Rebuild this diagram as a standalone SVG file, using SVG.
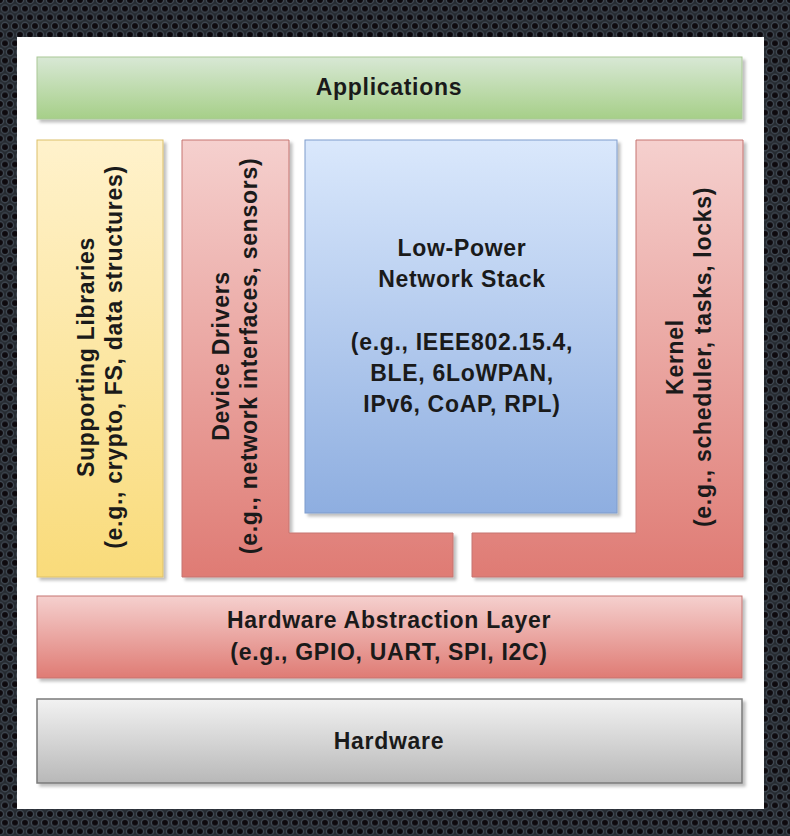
<svg xmlns="http://www.w3.org/2000/svg" width="790" height="836" viewBox="0 0 790 836">
  <defs>
    <pattern id="mesh" patternUnits="userSpaceOnUse" width="10" height="17.32">
      <rect width="10" height="17.32" fill="#262b31"/>
      <g fill="#0e0a0e" stroke="#3f4852" stroke-width="1.3">
        <circle cx="0" cy="0" r="3.6"/>
        <circle cx="10" cy="0" r="3.6"/>
        <circle cx="5" cy="8.66" r="3.6"/>
        <circle cx="0" cy="17.32" r="3.6"/>
        <circle cx="10" cy="17.32" r="3.6"/>
      </g>
    </pattern>
    <linearGradient id="gGreen" x1="0" y1="0" x2="0" y2="1">
      <stop offset="0" stop-color="#d8e8d5"/>
      <stop offset="1" stop-color="#a6cf88"/>
    </linearGradient>
    <linearGradient id="gYellow" x1="0" y1="0" x2="0" y2="1">
      <stop offset="0" stop-color="#fff2cc"/>
      <stop offset="1" stop-color="#f9db7a"/>
    </linearGradient>
    <linearGradient id="gRed" x1="0" y1="0" x2="0" y2="1">
      <stop offset="0" stop-color="#f5d0ce"/>
      <stop offset="1" stop-color="#df7b74"/>
    </linearGradient>
    <linearGradient id="gBlue" x1="0" y1="0" x2="0" y2="1">
      <stop offset="0" stop-color="#dae8fc"/>
      <stop offset="1" stop-color="#8eaee0"/>
    </linearGradient>
    <linearGradient id="gGrey" x1="0" y1="0" x2="0" y2="1">
      <stop offset="0" stop-color="#f2f2f2"/>
      <stop offset="1" stop-color="#b8b8b8"/>
    </linearGradient>
    <filter id="shadow" x="-5%" y="-5%" width="115%" height="120%">
      <feDropShadow dx="3" dy="3" stdDeviation="1.5" flood-color="#000" flood-opacity="0.25"/>
    </filter>
    <style>
      .lbl { font-family: "Liberation Sans", Arial, Helvetica, sans-serif; font-weight: bold; font-size: 23px; letter-spacing: 0.7px; fill: #1a1a1a; text-anchor: middle; }
      .box { stroke-width: 1; filter: url(#shadow); }
      .green { fill: url(#gGreen); stroke: #a9c896; }
      .yellow { fill: url(#gYellow); stroke: #dcc06a; }
      .red { fill: url(#gRed); stroke: #c57570; }
      .blue { fill: url(#gBlue); stroke: #7f9ccc; }
      .grey { fill: url(#gGrey); stroke: #7a7a7a; stroke-width: 1.5; }
    </style>
  </defs>

  <rect x="0" y="0" width="790" height="836" fill="url(#mesh)"/>
  <rect x="17" y="37" width="747" height="772" fill="#ffffff"/>

  <g id="applications">
    <rect class="box green" x="37" y="57" width="705" height="62"/>
    <text class="lbl" x="389" y="95">Applications</text>
  </g>

  <g id="supporting-libraries">
    <rect class="box yellow" x="37" y="140" width="126" height="437"/>
    <text class="lbl" transform="translate(94,357) rotate(-90)">Supporting Libraries</text>
    <text class="lbl" transform="translate(122,357) rotate(-90)">(e.g., crypto, FS, data structures)</text>
  </g>

  <g id="device-drivers">
    <path class="box red" d="M182,140 H289 V533 H453 V577 H182 Z"/>
    <text class="lbl" transform="translate(229,356) rotate(-90)">Device Drivers</text>
    <text class="lbl" transform="translate(257,356) rotate(-90)">(e.g., network interfaces, sensors)</text>
  </g>

  <g id="network-stack">
    <rect class="box blue" x="305" y="140" width="312" height="373"/>
    <text class="lbl" x="462" y="256">Low-Power</text>
    <text class="lbl" x="462" y="287">Network Stack</text>
    <text class="lbl" x="462" y="350">(e.g., IEEE802.15.4,</text>
    <text class="lbl" x="462" y="381">BLE, 6LoWPAN,</text>
    <text class="lbl" x="462" y="412">IPv6, CoAP, RPL)</text>
  </g>

  <g id="kernel">
    <path class="box red" d="M636,140 H743 V577 H472 V533 H636 Z"/>
    <text class="lbl" transform="translate(683,357) rotate(-90)">Kernel</text>
    <text class="lbl" transform="translate(711,357) rotate(-90)">(e.g., scheduler, tasks, locks)</text>
  </g>

  <g id="hal">
    <rect class="box red" x="37" y="596" width="705" height="82"/>
    <text class="lbl" x="389" y="628">Hardware Abstraction Layer</text>
    <text class="lbl" x="389" y="660">(e.g., GPIO, UART, SPI, I2C)</text>
  </g>

  <g id="hardware">
    <rect class="box grey" x="37" y="699" width="705" height="84"/>
    <text class="lbl" x="389" y="749">Hardware</text>
  </g>

  <g id="connectors"/>
</svg>
